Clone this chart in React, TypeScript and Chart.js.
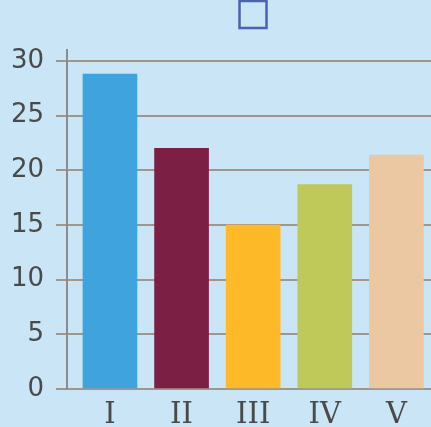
import React, { useEffect, useRef } from "react";
import { Chart, registerables } from "chart.js";

Chart.register(...registerables);

const categories = ["I", "II", "III", "IV", "V"];
const values = [28.8, 22, 15, 18.7, 21.4];
const barColors = ["#3fa3dd", "#7b1f45", "#fdb928", "#bec95a", "#ecc8a2"];
const yTicks = [0, 5, 10, 15, 20, 25, 30];

const GRID = "#a0968b";
const AXIS = "#8c8c8c";
const TEXT = "#4a4a4a";

export default function App() {
  const ref = useRef<HTMLCanvasElement | null>(null);

  useEffect(() => {
    if (!ref.current) return;
    const xMin = 0.4;
    const xMax = 6.489;
    const chart = new Chart(ref.current, {
      type: "bar",
      data: {
        datasets: [
          {
            label: "",
            data: values.map((v, i) => ({ x: i + 1, y: v })),
            backgroundColor: barColors,
            borderWidth: 0,
            barThickness: 54,
          },
        ],
      },
      options: {
        animation: false,
        responsive: false,
        devicePixelRatio: 1,
        layout: { padding: { left: 9, top: 0, right: 0, bottom: 3 } },
        plugins: {
          tooltip: { enabled: false },
          legend: {
            display: true,
            position: "top",
            labels: {
              boxWidth: 27,
              boxHeight: 27,
              padding: 1,
              font: { size: 12 },
              generateLabels: () => [
                {
                  text: "",
                  fillStyle: "rgba(0,0,0,0)",
                  strokeStyle: "#4a63b1",
                  lineWidth: 2.5,
                  hidden: false,
                  datasetIndex: 0,
                },
              ],
            },
          },
        },
        scales: {
          x: {
            type: "linear",
            min: xMin,
            max: xMax,
            offset: false,
            afterBuildTicks: (s: any) => {
              s.ticks = [{ value: xMin }, ...categories.map((_, i) => ({ value: i + 1 }))];
            },
            border: { display: true, color: GRID, width: 2 },
            grid: {
              drawOnChartArea: false,
              drawTicks: true,
              tickLength: 18,
              lineWidth: 2,
              color: (ctx: any) => (ctx.index === 0 ? AXIS : "rgba(0,0,0,0)"),
            },
            ticks: {
              autoSkip: false,
              maxRotation: 0,
              padding: -4,
              color: TEXT,
              font: { family: "DejaVu Serif", size: 29, lineHeight: 0.862 },
              callback: (v: any) => {
                const n = Number(v);
                if (Number.isInteger(n) && n >= 1 && n <= categories.length) return categories[n - 1];
                return "";
              },
            },
          },
          spacer: {
            type: "linear",
            position: "top",
            display: true,
            border: { display: false },
            grid: { display: false },
            ticks: { display: false },
            afterFit: (s: any) => {
              s.height = 12;
            },
          },
          y: {
            min: 0,
            max: 31,
            afterFit: (s: any) => {
              s.width = 58;
            },
            border: { display: true, color: AXIS, width: 2 },
            grid: {
              color: GRID,
              lineWidth: 2,
              tickLength: 11,
              drawTicks: true,
            },
            afterBuildTicks: (s: any) => {
              s.ticks = yTicks.map((v) => ({ value: v }));
            },
            ticks: {
              padding: 12,
              color: TEXT,
              font: { family: "DejaVu Sans", size: 26 },
            },
          },
        },
      },
    });
    return () => chart.destroy();
  }, []);

  return (
    <div
      style={{
        position: "fixed",
        left: 0,
        top: 0,
        width: 431,
        height: 427,
        overflow: "hidden",
        background: "#cae5f5",
      }}
    >
      <canvas ref={ref} width={503} height={427} style={{ display: "block" }} />
    </div>
  );
}
